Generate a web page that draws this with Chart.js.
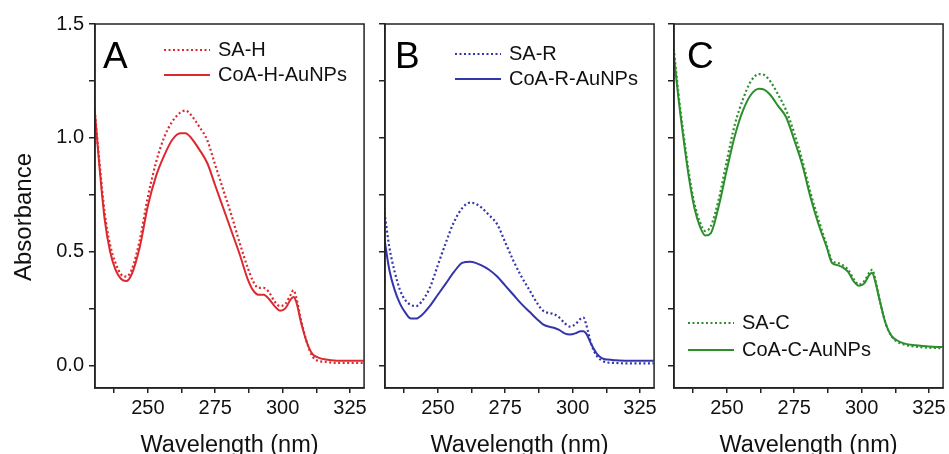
<!DOCTYPE html>
<html>
<head>
<meta charset="utf-8">
<script src="https://cdn.jsdelivr.net/npm/chart.js@4.4.1/dist/chart.umd.min.js"></script>
<style>
  body { margin: 0; background: #fff; width: 949px; height: 454px; overflow: hidden; position: relative; }
  canvas { position: absolute; top: 0; }
</style>
</head>
<body>
<canvas id="panelA" width="370" height="454" style="left:0px;width:370px;height:454px"></canvas>
<canvas id="panelB" width="290" height="454" style="left:370px;width:290px;height:454px"></canvas>
<canvas id="panelC" width="289" height="454" style="left:660px;width:289px;height:454px"></canvas>
<script>
// wavelength grid (nm) shared by all spectra
const wavelength = [230, 232, 234, 236, 238, 240, 242, 244, 247, 250, 253, 256, 259, 262, 264, 266, 269, 272, 275, 278,
                    281, 284, 287, 289, 291, 293, 295, 297, 299, 301, 303, 304, 305, 307, 309, 311, 313, 316, 320, 325, 330];

// A: H
const saH  = [1.16, 0.90, 0.67, 0.53, 0.45, 0.40, 0.39, 0.42, 0.55, 0.74, 0.89, 1.00, 1.07, 1.11, 1.12, 1.10, 1.05, 0.99, 0.88, 0.77,
              0.66, 0.54, 0.43, 0.37, 0.34, 0.34, 0.32, 0.28, 0.26, 0.27, 0.31, 0.33, 0.30, 0.19, 0.10, 0.04, 0.02, 0.015, 0.01, 0.01, 0.01];
const coaH = [1.16, 0.88, 0.64, 0.50, 0.42, 0.38, 0.37, 0.40, 0.52, 0.70, 0.83, 0.92, 0.99, 1.02, 1.02, 1.00, 0.95, 0.89, 0.79, 0.69,
              0.59, 0.49, 0.38, 0.33, 0.31, 0.31, 0.29, 0.26, 0.24, 0.25, 0.29, 0.30, 0.28, 0.18, 0.10, 0.05, 0.035, 0.025, 0.02, 0.02, 0.02];
// B: R
const saR  = [0.69, 0.52, 0.41, 0.33, 0.285, 0.265, 0.26, 0.28, 0.34, 0.44, 0.54, 0.63, 0.69, 0.715, 0.71, 0.695, 0.66, 0.62, 0.54, 0.46,
              0.39, 0.33, 0.27, 0.24, 0.23, 0.225, 0.21, 0.185, 0.17, 0.18, 0.205, 0.21, 0.18, 0.09, 0.04, 0.02, 0.012, 0.01, 0.008, 0.008, 0.008];
const coaR = [0.57, 0.42, 0.33, 0.27, 0.23, 0.205, 0.205, 0.22, 0.26, 0.31, 0.36, 0.41, 0.45, 0.455, 0.45, 0.44, 0.42, 0.39, 0.35, 0.31,
              0.27, 0.235, 0.20, 0.18, 0.17, 0.165, 0.155, 0.14, 0.135, 0.14, 0.15, 0.15, 0.14, 0.09, 0.05, 0.03, 0.025, 0.022, 0.02, 0.02, 0.02];
// C: C
const saC  = [1.43, 1.20, 1.01, 0.84, 0.71, 0.63, 0.59, 0.61, 0.73, 0.90, 1.06, 1.17, 1.25, 1.28, 1.275, 1.25, 1.19, 1.12, 1.02, 0.90,
              0.76, 0.64, 0.53, 0.46, 0.45, 0.44, 0.42, 0.38, 0.355, 0.37, 0.41, 0.42, 0.38, 0.27, 0.18, 0.13, 0.105, 0.09, 0.082, 0.077, 0.075];
const coaC = [1.40, 1.18, 0.99, 0.82, 0.69, 0.61, 0.57, 0.58, 0.70, 0.86, 1.01, 1.12, 1.19, 1.215, 1.21, 1.19, 1.14, 1.09, 0.99, 0.88,
              0.74, 0.62, 0.52, 0.45, 0.44, 0.43, 0.41, 0.37, 0.35, 0.36, 0.40, 0.405, 0.37, 0.27, 0.18, 0.13, 0.11, 0.095, 0.088, 0.082, 0.08];

const xTicks = [237.5, 250, 262.5, 275, 287.5, 300, 312.5, 325];
const yTicks = [0, 0.25, 0.5, 0.75, 1.0, 1.25, 1.5];

const FONT = '"Liberation Sans", Arial, sans-serif';
const AXIS = '#222';

// box frame, panel letter, y title and the little legend
const panelDecor = {
    id: 'panelDecor',
    afterDraw(chart, args, opts) {
        const ctx = chart.ctx;
        const a = chart.chartArea;
        ctx.save();
        ctx.strokeStyle = AXIS;
        ctx.lineWidth = 1.5;
        ctx.strokeRect(a.left, a.top, a.right - a.left, a.bottom - a.top);

        ctx.fillStyle = '#000';
        ctx.font = '37px ' + FONT;
        ctx.textBaseline = 'alphabetic';
        ctx.fillText(opts.letter, a.left + opts.letterDx, 68);

        if (opts.yTitle) {
            ctx.save();
            ctx.translate(24, 217);
            ctx.rotate(-Math.PI / 2);
            ctx.font = '24px ' + FONT;
            ctx.textAlign = 'center';
            ctx.textBaseline = 'middle';
            ctx.fillStyle = '#111';
            ctx.fillText(opts.yTitle, 0, 0);
            ctx.restore();
        }

        ctx.font = '20px ' + FONT;
        ctx.textBaseline = 'middle';
        chart.data.datasets.forEach(function (ds, i) {
            var y = opts.legendY + i * opts.legendGap;
            var x0 = a.left + opts.legendDx;
            ctx.strokeStyle = ds.borderColor;
            ctx.lineWidth = 2;
            ctx.setLineDash(ds.borderDash || []);
            ctx.beginPath();
            ctx.moveTo(x0, y);
            ctx.lineTo(x0 + 46, y);
            ctx.stroke();
            ctx.setLineDash([]);
            ctx.fillStyle = '#111';
            ctx.fillText(ds.label, x0 + 54, y);
        });
        ctx.restore();
    }
};

function makeChart(id, labels, sa, coa, color, yWidth, showY, decor) {
    var ctx = document.getElementById(id).getContext('2d');
    var data = {
        datasets: [
            {
                label: labels[0],
                data: wavelength.map(function (w, i) { return { x: w, y: sa[i] }; }),
                borderColor: color,
                borderWidth: 2.2,
                borderDash: [2, 2.5],
                pointRadius: 0,
                cubicInterpolationMode: 'monotone'
            },
            {
                label: labels[1],
                data: wavelength.map(function (w, i) { return { x: w, y: coa[i] }; }),
                borderColor: color,
                borderWidth: 2,
                pointRadius: 0,
                cubicInterpolationMode: 'monotone'
            }
        ]
    };

    var options = {
        responsive: false,
        animation: false,
        layout: { padding: { top: 24, right: 5, left: 0, bottom: 0 } },
        plugins: {
            legend: { display: false },
            tooltip: { enabled: false },
            panelDecor: decor
        },
        scales: {
            x: {
                type: 'linear',
                min: 230.4,
                max: 330.2,
                afterBuildTicks: function (axis) { axis.ticks = xTicks.map(function (v) { return { value: v }; }); },
                afterFit: function (axis) { axis.height = 66; },
                ticks: {
                    autoSkip: false,
                    maxRotation: 0,
                    padding: 3,
                    color: '#111',
                    font: { family: FONT, size: 20 },
                    callback: function (v) { return v % 25 === 0 ? String(v) : ''; }
                },
                grid: { drawOnChartArea: false, drawTicks: true, tickLength: 5, color: AXIS, lineWidth: 1.5 },
                border: { display: true, color: AXIS, width: 1.5 },
                title: {
                    display: true,
                    text: 'Wavelength (nm)',
                    color: '#111',
                    padding: { top: 0, bottom: 0 },
                    font: { family: FONT, size: 23.5, lineHeight: 0.7 }
                }
            },
            y: {
                min: -0.1,
                max: 1.5,
                afterBuildTicks: function (axis) { axis.ticks = yTicks.map(function (v) { return { value: v }; }); },
                afterFit: function (axis) { axis.width = yWidth; },
                ticks: {
                    autoSkip: false,
                    padding: 5,
                    color: '#111',
                    font: { family: FONT, size: 20 },
                    callback: function (v) { return (showY && v % 0.5 === 0) ? v.toFixed(1) : ''; }
                },
                grid: { drawOnChartArea: false, drawTicks: true, tickLength: 6, color: AXIS, lineWidth: 1.5 },
                border: { display: true, color: AXIS, width: 1.5 }
            }
        }
    };

    return new Chart(ctx, { type: 'line', data: data, options: options, plugins: [panelDecor] });
}

makeChart('panelA', ['SA-H', 'CoA-H-AuNPs'], saH, coaH, '#db2a2f', 95, true,
    { letter: 'A', letterDx: 8, legendDx: 69, legendY: 50, legendGap: 25, yTitle: 'Absorbance' });
makeChart('panelB', ['SA-R', 'CoA-R-AuNPs'], saR, coaR, '#3434ab', 15, false,
    { letter: 'B', letterDx: 10, legendDx: 70, legendY: 54, legendGap: 25 });
makeChart('panelC', ['SA-C', 'CoA-C-AuNPs'], saC, coaC, '#2c8e2c', 14, false,
    { letter: 'C', letterDx: 13, legendDx: 14, legendY: 323, legendGap: 27 });
</script>
</body>
</html>
